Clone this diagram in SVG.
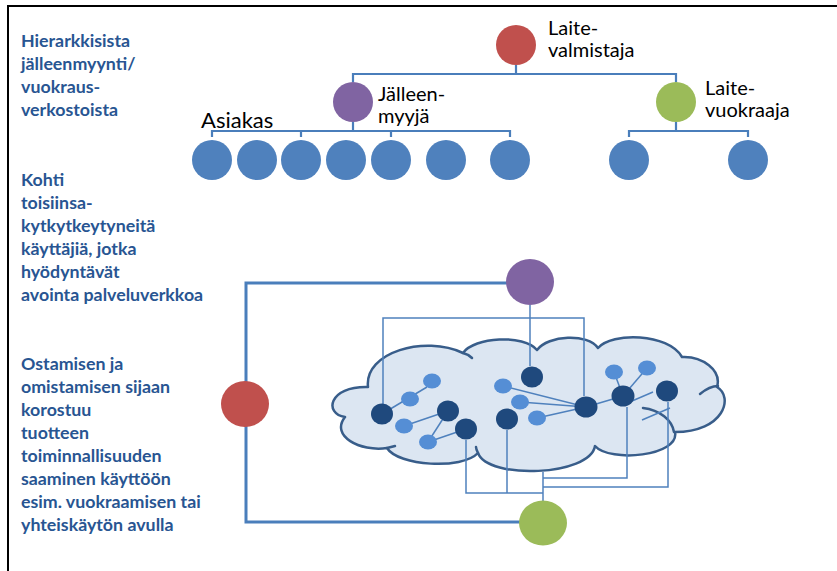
<svg xmlns="http://www.w3.org/2000/svg" width="837" height="571" viewBox="0 0 837 571">
  <style>
    .lead { font-family: Lato, "Open Sans", "Liberation Sans", sans-serif; font-weight: bold; font-size: 17.8px; fill: #285592; }
    .lbl { font-family: Lato, "Open Sans", "Liberation Sans", sans-serif; font-size: 20px; fill: #000; }
    .tree { fill: none; stroke: #4a7ebb; stroke-width: 2.2; }
    .ring { fill: none; stroke: #4a7ebb; stroke-width: 3; }
    .link { fill: none; stroke: #4f81bd; stroke-width: 1.5; }
    .cloud { fill: #dce6f2; stroke: #385d8a; stroke-width: 2.5; stroke-linejoin: round; }
    .hook { fill: none; stroke: #385d8a; stroke-width: 2.5; stroke-linecap: round; }
    .leaf { fill: #4f81bd; }
    .red { fill: #c0504d; }
    .purple { fill: #8064a2; }
    .green { fill: #9bbb59; }
    .dark { fill: #1f497d; }
    .light { fill: #558ed5; }
  </style>

  <!-- outer frame -->
  <rect x="8" y="6" width="840" height="580" fill="#fff" stroke="#000" stroke-width="2"/>

  <!-- descriptive texts on the left -->
  <g id="text-hierarchy" class="lead">
    <text x="21" y="47">Hierarkkisista</text>
    <text x="21" y="70">jälleenmyynti/</text>
    <text x="21" y="93">vuokraus-</text>
    <text x="21" y="116">verkostoista</text>
  </g>
  <g id="text-network" class="lead">
    <text x="21" y="186">Kohti</text>
    <text x="21" y="209">toisiinsa-</text>
    <text x="21" y="232">kytkytkeytyneitä</text>
    <text x="21" y="255">käyttäjiä, jotka</text>
    <text x="21" y="278">hyödyntävät</text>
    <text x="21" y="301">avointa palveluverkkoa</text>
  </g>
  <g id="text-usage" class="lead">
    <text x="21" y="370">Ostamisen ja</text>
    <text x="21" y="393">omistamisen sijaan</text>
    <text x="21" y="416">korostuu</text>
    <text x="21" y="439">tuotteen</text>
    <text x="21" y="462">toiminnallisuuden</text>
    <text x="21" y="485">saaminen käyttöön</text>
    <text x="21" y="508">esim. vuokraamisen tai</text>
    <text x="21" y="531">yhteiskäytön avulla</text>
  </g>

  <!-- hierarchy connectors -->
  <g id="tree-connectors" class="tree">
    <path d="M516,65 V74"/>
    <path d="M353,82 V74 H676 V82"/>
    <path d="M353,122 V131"/>
    <path d="M212,137 V131 H510 V137"/>
    <path d="M301,131 V137"/>
    <path d="M391,131 V137"/>
    <path d="M676,122 V131"/>
    <path d="M629,137 V131 H748 V137"/>
  </g>

  <!-- hierarchy nodes -->
  <g id="manufacturer">
    <circle class="red" cx="516" cy="45" r="20"/>
    <text class="lbl" x="548" y="35">Laite-</text>
    <text class="lbl" x="548" y="57">valmistaja</text>
  </g>
  <g id="reseller">
    <circle class="purple" cx="353" cy="102" r="20"/>
    <text class="lbl" x="378" y="101">Jälleen-</text>
    <text class="lbl" x="378" y="123">myyjä</text>
  </g>
  <g id="lessor">
    <circle class="green" cx="676" cy="102" r="20"/>
    <text class="lbl" x="705" y="95">Laite-</text>
    <text class="lbl" x="705" y="117">vuokraaja</text>
  </g>
  <g id="customers">
    <text class="lbl" x="201" y="128" style="font-size:22px">Asiakas</text>
    <circle class="leaf" cx="212" cy="160" r="20"/>
    <circle class="leaf" cx="257" cy="160" r="20"/>
    <circle class="leaf" cx="301" cy="160" r="20"/>
    <circle class="leaf" cx="346" cy="160" r="20"/>
    <circle class="leaf" cx="391" cy="160" r="20"/>
    <circle class="leaf" cx="446" cy="160" r="20"/>
    <circle class="leaf" cx="510" cy="160" r="20"/>
  </g>
  <g id="lessor-customers">
    <circle class="leaf" cx="629" cy="160" r="20"/>
    <circle class="leaf" cx="748" cy="160" r="20"/>
  </g>

  <!-- loop joining the three actors round the network -->
  <g id="actor-loop" class="ring">
    <path d="M520,522 H246 V283 H507"/>
  </g>

  <!-- service network cloud -->
  <g id="cloud">
    <path class="cloud" d="M368,387 C364,352 425,335 463,353 C474,337 524,334 537,350 C548,335 588,333 598,348 C612,332 668,333 682,357 C702,356 722,370 717,387 C734,397 724,432 675,432 C680,456 610,463 595,446 C590,476 488,480 478,453 C462,470 398,466 387,448 C360,452 330,436 345,417 C324,414 328,386 368,387 Z"/>
    <path class="hook" d="M463,353 C467,354 470,356 472,358"/>
    <path class="hook" d="M700,394 C706,389 712,386 718,386"/>
    <path class="hook" d="M643,408 C660,410 672,420 674,432"/>
    <path class="hook" d="M387,448 L395,446"/>
    <path class="hook" d="M478,453 C477,451 476,449 476,447"/>
  </g>

  <!-- links between actors and users -->
  <g id="connectors" class="link">
    <path d="M530,305 V366"/>
    <path d="M383,404 V318 H584 V396"/>
    <path d="M466,440 V493 H543"/>
    <path d="M507,430 V493"/>
    <path d="M543,472 V501"/>
    <path d="M627,407 V478 H543"/>
    <path d="M668,402 V487 H543"/>
    <path d="M382,414 L427,387"/>
    <path d="M404,426 L448,411"/>
    <path d="M428,442 L448,411"/>
    <path d="M428,442 L466,429"/>
    <path d="M503,386 L586,407"/>
    <path d="M520,402 L586,407"/>
    <path d="M537,418 L586,407"/>
    <path d="M586,407 L623,396"/>
    <path d="M623,396 L614,372"/>
    <path d="M623,396 L647,368"/>
    <path d="M625,404 L653,392"/>
    <path d="M642,420 L670,408"/>
  </g>

  <!-- users inside the network -->
  <g id="users">
    <ellipse class="light" cx="432" cy="381" rx="9" ry="7.5"/>
    <ellipse class="light" cx="410" cy="399" rx="9" ry="7.5"/>
    <ellipse class="light" cx="404" cy="426" rx="9" ry="7.5"/>
    <ellipse class="light" cx="428" cy="442" rx="9" ry="7.5"/>
    <ellipse class="light" cx="503" cy="386" rx="9" ry="7.5"/>
    <ellipse class="light" cx="520" cy="402" rx="9" ry="7.5"/>
    <ellipse class="light" cx="537" cy="418" rx="9" ry="7.5"/>
    <ellipse class="light" cx="614" cy="372" rx="9" ry="7.5"/>
    <ellipse class="light" cx="647" cy="368" rx="9" ry="7.5"/>
    <ellipse class="dark" cx="382" cy="414" rx="11" ry="10.5"/>
    <ellipse class="dark" cx="448" cy="411" rx="11" ry="10.5"/>
    <ellipse class="dark" cx="466" cy="429" rx="11" ry="10.5"/>
    <ellipse class="dark" cx="507" cy="419" rx="11" ry="10.5"/>
    <ellipse class="dark" cx="532" cy="377" rx="11" ry="10.5"/>
    <ellipse class="dark" cx="586" cy="407" rx="11.5" ry="10.5"/>
    <ellipse class="dark" cx="623" cy="396" rx="11.5" ry="10.5"/>
    <ellipse class="dark" cx="667" cy="391" rx="11" ry="10.5"/>
  </g>

  <!-- actors on the loop -->
  <g id="network-reseller">
    <ellipse class="purple" cx="530" cy="282" rx="24" ry="23"/>
  </g>
  <g id="network-manufacturer">
    <ellipse class="red" cx="245" cy="404" rx="24" ry="23"/>
  </g>
  <g id="network-lessor">
    <ellipse class="green" cx="543" cy="523" rx="24" ry="22.5"/>
  </g>
</svg>
